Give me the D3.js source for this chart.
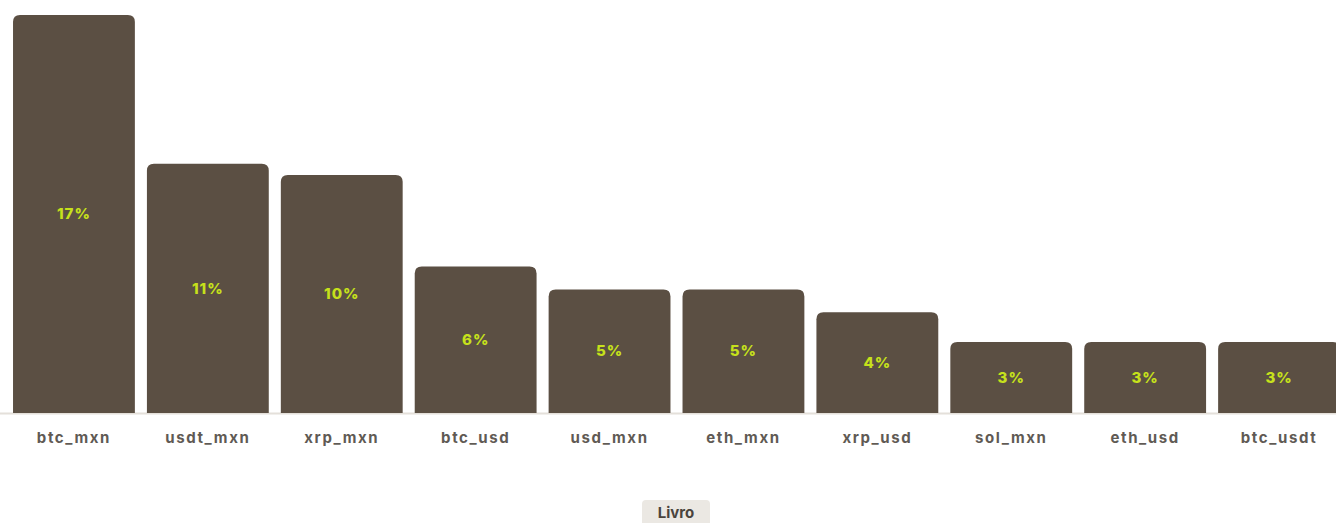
<!DOCTYPE html>
<html>
<head>
<meta charset="utf-8">
<script src="https://cdn.jsdelivr.net/npm/d3@7"></script>
<style>
  html, body { margin: 0; padding: 0; background: #ffffff; }
  svg { display: block; }
</style>
</head>
<body>
<svg id="chart" width="1336" height="523"></svg>
<script>
// Share of volume per trading pair
const pairs = ["btc_mxn", "usdt_mxn", "xrp_mxn", "btc_usd", "usd_mxn", "eth_mxn", "xrp_usd", "sol_mxn", "eth_usd", "btc_usdt"];
const shares = [17.4, 10.9, 10.4, 6.4, 5.4, 5.4, 4.4, 3.1, 3.1, 3.1];
const legendLabel = "Livro";

const svg = d3.select("#chart");
const W = 1336, baseY = 413, topY = 15;

const x = d3.scaleBand().domain(pairs).range([7, 7 + 10 * 133.9]).paddingInner(0.09).paddingOuter(0.045);
const y = d3.scaleLinear().domain([0, d3.max(shares)]).range([baseY, topY]);

const data = pairs.map((p, i) => ({ pair: p, value: shares[i] }));

// baseline
svg.append("line")
  .attr("x1", 0).attr("x2", W)
  .attr("y1", baseY + 0.5).attr("y2", baseY + 0.5)
  .attr("stroke", "#e4e0da").attr("stroke-width", 2);

// bars with rounded top corners
function barPath(x0, y0, w, h, r) {
  return `M${x0},${y0 + h}V${y0 + r}Q${x0},${y0} ${x0 + r},${y0}H${x0 + w - r}Q${x0 + w},${y0} ${x0 + w},${y0 + r}V${y0 + h}Z`;
}

svg.append("g").selectAll("path")
  .data(data)
  .join("path")
  .attr("d", d => barPath(x(d.pair), y(d.value), x.bandwidth(), baseY - y(d.value), 7))
  .attr("fill", "#5b4f43");

// value labels
svg.append("g").selectAll("text")
  .data(data)
  .join("text")
  .attr("x", d => x(d.pair) + x.bandwidth() / 2)
  .attr("y", d => (y(d.value) + baseY) / 2)
  .attr("dy", "0.35em")
  .attr("text-anchor", "middle")
  .attr("font-family", "Inter, 'Noto Sans', sans-serif")
  .attr("font-weight", 800)
  .attr("font-size", 15)
  .attr("letter-spacing", "1px")
  .attr("fill", "#c6e11b")
  .text(d => d3.format(".0f")(d.value) + "%");

// category axis
const axis = svg.append("g")
  .attr("transform", `translate(0,${baseY})`)
  .call(d3.axisBottom(x).tickSize(0).tickPadding(19));
axis.select(".domain").remove();
axis.selectAll("text")
  .attr("font-family", "Inter, 'Noto Sans', sans-serif")
  .attr("font-weight", 700)
  .attr("font-size", 15)
  .attr("letter-spacing", "1.6px")
  .attr("fill", "#605a54");

// legend
const lg = svg.append("g").attr("transform", "translate(676,512)");
lg.append("rect")
  .attr("x", -34).attr("y", -12).attr("width", 68).attr("height", 30)
  .attr("rx", 4).attr("fill", "#ebe8e3");
lg.append("text")
  .attr("text-anchor", "middle").attr("dy", "0.4em")
  .attr("font-family", "Inter, 'Noto Sans', sans-serif")
  .attr("font-weight", 700).attr("font-size", 15)
  .attr("fill", "#4a443d")
  .text(legendLabel);
</script>
</body>
</html>
